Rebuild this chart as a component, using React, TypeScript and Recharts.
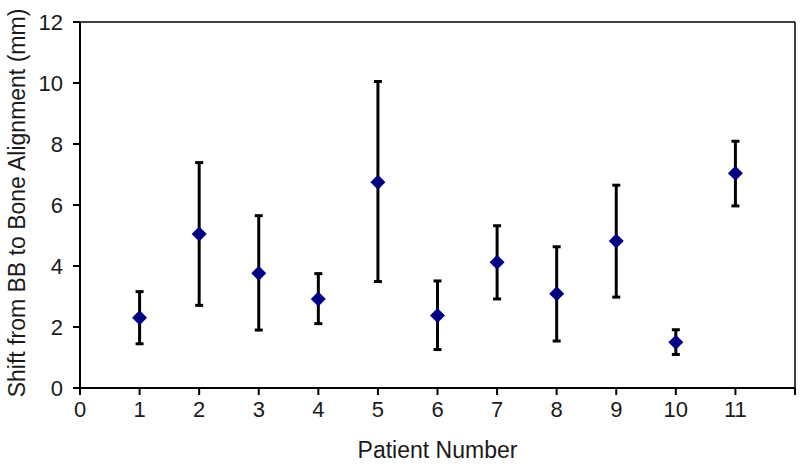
import { ScatterChart, Scatter, XAxis, YAxis, ErrorBar, ReferenceLine } from 'recharts';

const patients = [1, 2, 3, 4, 5, 6, 7, 8, 9, 10, 11];
const meanShift = [2.3, 5.05, 3.76, 2.92, 6.75, 2.38, 4.12, 3.09, 4.82, 1.5, 7.04];
const upperEnd = [3.16, 7.39, 5.65, 3.75, 10.05, 3.51, 5.32, 4.63, 6.65, 1.91, 8.09];
const lowerEnd = [1.45, 2.71, 1.9, 2.11, 3.49, 1.26, 2.92, 1.54, 2.98, 1.1, 5.97];

const xTicks = [0, 1, 2, 3, 4, 5, 6, 7, 8, 9, 10, 11, 12];
const yTicks = [0, 2, 4, 6, 8, 10, 12];

const data = patients.map((p, i) => ({
  patient: p,
  shift: meanShift[i],
  err: [meanShift[i] - lowerEnd[i], upperEnd[i] - meanShift[i]],
}));

const FONT = '"Liberation Sans", Arial, sans-serif';
const INK = '#1a1a1a';
const tickStyle = { fill: INK, fontSize: 22, fontFamily: FONT };

const Diamond = (props: any) => {
  const { cx, cy } = props;
  const r = 7.5;
  return (
    <polygon
      points={`${cx},${cy - r} ${cx + r},${cy} ${cx},${cy + r} ${cx - r},${cy}`}
      fill="#000080"
    />
  );
};

export default function App() {
  return (
    <div style={{ position: 'absolute', left: 0, top: 0, background: '#fff' }}>
      <ScatterChart width={800} height={466} margin={{ top: 22, right: 5, bottom: 0, left: 0 }}>
        <XAxis
          type="number"
          dataKey="patient"
          domain={[0, 12]}
          ticks={xTicks}
          interval={0}
          tickFormatter={(v: number) => (v === 12 ? '' : String(v))}
          tick={tickStyle}
          tickSize={7}
          tickMargin={6}
          height={78}
          axisLine={{ stroke: '#000', strokeWidth: 2 }}
          tickLine={{ stroke: '#000', strokeWidth: 2 }}
          label={{
            content: ({ viewBox }: any) => {
              const cx = viewBox.x + viewBox.width / 2;
              return (
                <text x={cx} y={458} textAnchor="middle" fill={INK} fontSize={23} fontFamily={FONT}>
                  Patient Number
                </text>
              );
            },
          }}
        />
        <YAxis
          type="number"
          dataKey="shift"
          domain={[0, 12]}
          ticks={yTicks}
          interval={0}
          tick={tickStyle}
          tickSize={7}
          tickMargin={10}
          width={80}
          axisLine={{ stroke: '#000', strokeWidth: 2 }}
          tickLine={{ stroke: '#000', strokeWidth: 2 }}
          label={{
            content: ({ viewBox }: any) => {
              const cy = viewBox.y + viewBox.height / 2 - 2;
              return (
                <text
                  x={17}
                  y={cy}
                  transform={`rotate(-90, 17, ${cy})`}
                  textAnchor="middle"
                  dominantBaseline="central"
                  fill={INK}
                  fontSize={23}
                  fontFamily={FONT}
                >
                  Shift from BB to Bone Alignment (mm)
                </text>
              );
            },
          }}
        />
        <ReferenceLine y={12} stroke="#000" strokeWidth={1.5} />
        <ReferenceLine x={12} stroke="#000" strokeWidth={1.5} />
        <Scatter data={data} shape={<Diamond />} isAnimationActive={false}>
          <ErrorBar dataKey="err" direction="y" width={4} stroke="#000" strokeWidth={3} />
        </Scatter>
      </ScatterChart>
    </div>
  );
}
